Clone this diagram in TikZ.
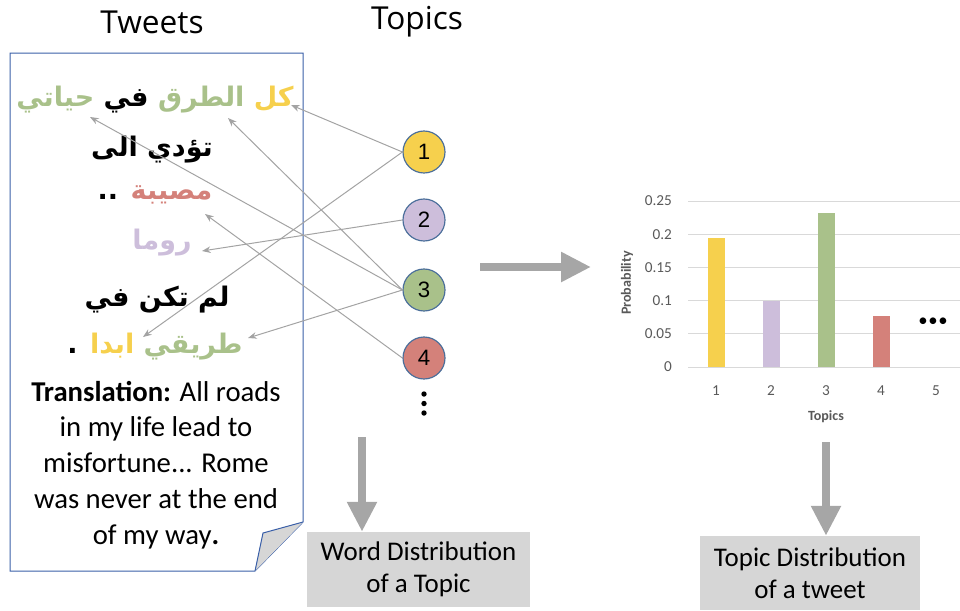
\documentclass[tikz,border=0pt]{standalone}
\usepackage{fontspec}
\setmainfont{Carlito}
\newfontfamily\arabicfont[Script=Arabic]{DejaVu Sans}
\newfontfamily\titlefont{Open Sans}
\newfontfamily\numfont{Liberation Sans}
\TeXXeTstate=1
\usetikzlibrary{arrows.meta}

\definecolor{topicyellow}{HTML}{F6D04D}
\definecolor{topicgreen}{HTML}{A9C18A}
\definecolor{topicpurple}{HTML}{CDBEDB}
\definecolor{topicred}{HTML}{D4817A}
\definecolor{circleedge}{HTML}{4A6E9A}
\definecolor{tweetedge}{HTML}{3A5FA8}
\definecolor{linkgray}{HTML}{A3A3A3}
\definecolor{biggray}{HTML}{A6A6A6}
\definecolor{boxgray}{HTML}{D6D6D6}
\definecolor{gridgray}{HTML}{D9D9D9}
\definecolor{ticktext}{HTML}{595959}

% one arabic word in its own colour, words are set left to right by hand
\newcommand{\arw}[2]{\textcolor{#1}{\beginR #2\endR}}

\begin{document}
\begin{tikzpicture}[x=0.3mm, y=-0.3mm,
  topic/.style={circle, draw=circleedge, line width=0.35mm, minimum size=12.6mm,
    inner sep=0pt, font=\numfont\fontsize{19}{20}\selectfont},
  arabic/.style={font=\arabicfont\bfseries\fontsize{23}{26}\selectfont, inner sep=0pt},
  link/.style={draw=linkgray, line width=0.3mm, -{Stealth[length=2.6mm,width=2mm]}},
  bigarrow/.style={draw=biggray, line width=2.4mm, -{Triangle[length=9mm,width=8.5mm]}},
  graybox/.style={fill=boxgray, align=center, font=\fontsize{23}{27}\selectfont},
  tick/.style={text=ticktext, font=\fontsize{13}{14}\selectfont},
]
\useasboundingbox (0,0) rectangle (960,610);

%titles
\node[font=\titlefont\fontsize{27}{30}\selectfont] (tweets) at (152,22) {Tweets};
\node[font=\titlefont\fontsize{27}{30}\selectfont] (topics) at (417,22) {Topics};

%tweet box with folded corner
\draw[tweetedge, line width=0.3mm] (10,53) -- (303,53) -- (303,522) -- (255,571) -- (10,571) -- cycle;
\filldraw[fill=boxgray, draw=tweetedge, line width=0.3mm] (303,522) -- (263,533) -- (255,571);

%tweet text
\node[arabic] (line1) at (155,100) {\arw{topicgreen}{حياتي} \arw{black}{في} \arw{topicgreen}{الطرق} \arw{topicyellow}{كل}};
\node[arabic] (line2) at (152,150) {\arw{black}{الى} \arw{black}{تؤدي}};
\node[arabic] (line3) at (155,195) {.. \arw{topicred}{مصيبة}};
\node[arabic] (line4) at (162,243) {\arw{topicpurple}{روما}};
\node[arabic] (line5) at (157,300) {\arw{black}{في} \arw{black}{تكن} \arw{black}{لم}};
\node[arabic] (line6) at (155,347) {. \arw{topicyellow}{ابدا} \arw{topicgreen}{طريقي}};

\node[align=center, font=\fontsize{24.5}{30.6}\selectfont] (trans) at (156,465)
  {\textbf{Translation:} All roads\\in my life lead to\\misfortune... Rome\\was never at the end\\of my way\textbf{.}};

%arrow ends on the words
\coordinate (kul) at (291,105);
\coordinate (turuq) at (228,118);
\coordinate (hayati) at (90,117);
\coordinate (musiba) at (205,214);
\coordinate (roma) at (202,251);
\coordinate (abadan) at (143,337);
\coordinate (tariqi) at (248,338);

%topics
\node[topic, fill=topicyellow] (t1) at (424,152) {1};
\node[topic, fill=topicpurple] (t2) at (424,220) {2};
\node[topic, fill=topicgreen] (t3) at (424,290) {3};
\node[topic, fill=topicred] (t4) at (424,358) {4};
\foreach \d in {0,1,2}
  \fill (424,394+9.5*\d) circle (2.7);

\draw[link] (t1.west) -- (kul);
\draw[link] (t1.west) -- (abadan);
\draw[link] (t2.west) -- (roma);
\draw[link] (t3.west) -- (hayati);
\draw[link] (t3.west) -- (turuq);
\draw[link] (t3.west) -- (tariqi);
\draw[link] (t4.west) -- (musiba);

%chart
\foreach \v/\lab in {0/0, 0.05/0.05, 0.1/0.1, 0.15/0.15, 0.2/0.2, 0.25/0.25}{
  \draw[gridgray, line width=0.3mm] (688,367-\v*664) -- (960,367-\v*664);
  \node[tick, anchor=east] (ylab\lab) at (676,367-\v*664) {\lab};
}
\foreach \i/\h/\c in {1/0.195/topicyellow, 2/0.1/topicpurple, 3/0.232/topicgreen, 4/0.077/topicred}{
  \fill[\c] (707.5+55*\i-55,367) rectangle (724.5+55*\i-55,367-\h*664);
}
\foreach \i in {1,...,5}{
  \node[tick] (xlab\i) at (661+55*\i,391) {\i};
}
\node[font=\fontsize{16}{16}\selectfont] (hdots) at (933,322) {•\kern0.5pt•\kern0.5pt•};
\node[text=ticktext, font=\bfseries\fontsize{12}{12}\selectfont] (xtitle) at (826,417) {Topics};
\node[text=ticktext, font=\bfseries\fontsize{12}{12}\selectfont, rotate=90] (ytitle) at (627,283) {Probability};

%result boxes
\node[graybox, minimum width=66.9mm, minimum height=22.5mm] (worddist) at (418.5,569.5) {Word Distribution\\of a Topic};
\node[graybox, minimum width=66mm, minimum height=22.2mm] (topicdist) at (810,573) {Topic Distribution\\of a tweet};

%big arrows
\coordinate (harrowstart) at (480,267);
\coordinate (harrowend) at (591,267);
\coordinate (larrowstart) at (362,437);
\coordinate (rarrowstart) at (826,442);
\draw[bigarrow] (harrowstart) -- (harrowend);
\draw[bigarrow] (larrowstart) -- (larrowstart |- worddist.north);
\draw[bigarrow] (rarrowstart) -- (rarrowstart |- topicdist.north);

\end{tikzpicture}
\end{document}
